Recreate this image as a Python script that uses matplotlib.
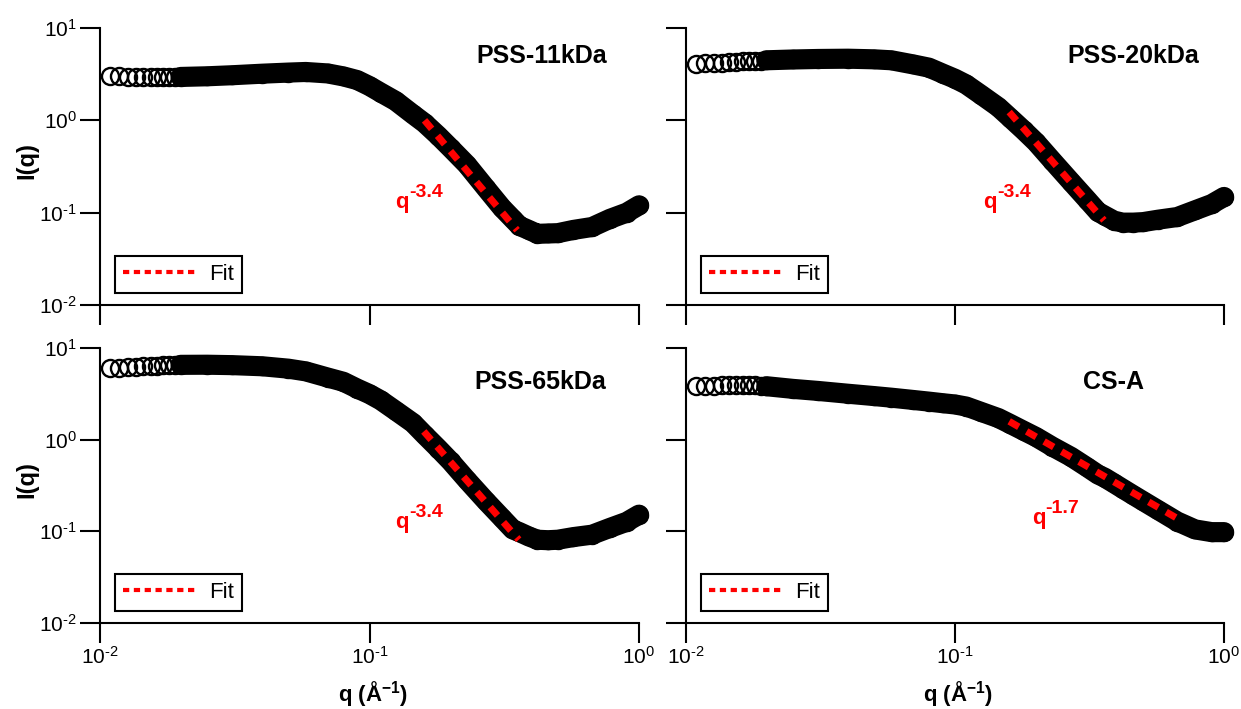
import matplotlib
matplotlib.use('Agg')
import matplotlib.pyplot as plt
from matplotlib.lines import Line2D
from matplotlib.ticker import NullLocator

plt.rcParams['font.family'] = ['Liberation Sans', 'DejaVu Sans']
plt.rcParams['mathtext.fontset'] = 'custom'
plt.rcParams['mathtext.rm'] = 'Liberation Sans'
plt.rcParams['mathtext.it'] = 'Liberation Sans:italic'
plt.rcParams['mathtext.bf'] = 'Liberation Sans:bold'

# ---------------- data ----------------
q = [0.0109, 0.0118, 0.0127, 0.0136, 0.0145, 0.0154, 0.0163, 0.0172, 0.0181, 0.0190,
     0.0199, 0.025, 0.031, 0.04, 0.05, 0.058, 0.07, 0.08, 0.09, 0.1,
     0.11, 0.125, 0.145, 0.16, 0.18, 0.2, 0.23, 0.27, 0.31, 0.34,
     0.36, 0.39, 0.42, 0.46, 0.5, 0.57, 0.67, 0.78, 0.9, 1.0]

I_pss11 = [3.0, 3.0, 2.98, 2.97, 2.95, 2.93, 2.92, 2.92, 2.93, 2.94,
           2.95, 3.0, 3.08, 3.2, 3.29, 3.34, 3.22, 2.99, 2.73, 2.35,
           2.0, 1.62, 1.16, 0.935, 0.68, 0.50, 0.33, 0.185, 0.113, 0.0855,
           0.072, 0.065, 0.059, 0.0595, 0.060, 0.065, 0.070, 0.0857, 0.10, 0.12]

I_pss20 = [4.1, 4.15, 4.2, 4.23, 4.27, 4.3, 4.34, 4.38, 4.41, 4.44,
           4.47, 4.56, 4.62, 4.65, 4.58, 4.47, 4.03, 3.72, 3.21, 2.82,
           2.45, 1.89, 1.39, 1.07, 0.78, 0.58, 0.365, 0.216, 0.138, 0.102,
           0.093, 0.082, 0.078, 0.078, 0.079, 0.084, 0.0897, 0.106, 0.124, 0.148]

I_pss65 = [6.05, 6.12, 6.2, 6.25, 6.3, 6.35, 6.4, 6.45, 6.5, 6.53,
           6.55, 6.57, 6.5, 6.32, 5.95, 5.56, 4.76, 4.28, 3.61, 3.14,
           2.69, 2.07, 1.52, 1.13, 0.80, 0.58, 0.362, 0.215, 0.14, 0.105,
           0.098, 0.088, 0.081, 0.080, 0.081, 0.0865, 0.092, 0.109, 0.127, 0.152]

I_csa = [3.82, 3.85, 3.88, 3.9, 3.92, 3.93, 3.94, 3.93, 3.9, 3.87,
         3.83, 3.58, 3.40, 3.17, 2.99, 2.87, 2.71, 2.6, 2.5, 2.42,
         2.3, 2.01, 1.72, 1.49, 1.25, 1.07, 0.84, 0.65, 0.50, 0.417,
         0.385, 0.334, 0.292, 0.248, 0.214, 0.17, 0.128, 0.105, 0.098, 0.098]

titles = ['PSS-11kDa', 'PSS-20kDa', 'PSS-65kDa', 'CS-A']
exponents = ['-3.4', '-3.4', '-3.4', '-1.7']
fit_q = [[0.16, 0.353], [0.159, 0.358], [0.159, 0.358], [0.159, 0.70]]
fit_I = [[1.0, 0.0645], [1.23, 0.0826], [1.23, 0.081], [1.585, 0.1286]]
legend_label = 'Fit'

xticks = [0.01, 0.1, 1.0]
xticklabels = [r'$10^{\text{-}2}$', r'$10^{\text{-}1}$', r'$10^{0}$']
yticks = [0.01, 0.1, 1.0, 10.0]
yticklabels = [r'$10^{\text{-}2}$', r'$10^{\text{-}1}$', r'$10^{0}$', r'$10^{1}$']
xlabel = r'$\mathbf{q\ (Å^{-1})}$'
ylabel = 'I(q)'

series = [I_pss11, I_pss20, I_pss65, I_csa]

# ---------------- layout ----------------
W, H = 1241, 709
fig = plt.figure(figsize=(W / 100, H / 100), dpi=100)
boxes = [(100, 28, 539, 277), (686, 28, 538, 277),
         (100, 348, 539, 275), (686, 348, 538, 275)]
title_pos = [(0.819, 0.90), (0.832, 0.90), (0.817, 0.877), (0.795, 0.877)]
expo_pos = [(0.548, 0.35), (0.553, 0.35), (0.548, 0.345), (0.643, 0.36)]
band_start = 10  # from here the circles merge into a solid band

for k in range(4):
    x0, y0, w, h = boxes[k]
    ax = fig.add_axes([x0 / W, 1 - (y0 + h) / H, w / W, h / H])
    ax.set_xscale('log')
    ax.set_yscale('log')
    ax.set_xlim(0.01, 1.0)
    ax.set_ylim(0.01, 10.0)

    I = series[k]
    ax.plot(q[band_start:], I[band_start:], color='black', lw=14.5,
            solid_capstyle='round', solid_joinstyle='round', zorder=2, clip_on=False)
    ax.plot(q, I, ls='none', marker='o', ms=12.3, mfc='none', mec='black',
            mew=1.7, zorder=2, clip_on=False)
    ax.plot(fit_q[k], fit_I[k], color='red', lw=5, dashes=(1.6, 1.3),
            dash_capstyle='butt', zorder=3)

    ax.text(title_pos[k][0], title_pos[k][1], titles[k], transform=ax.transAxes,
            ha='center', va='center', fontsize=18, fontweight='bold')

    ex, ey = expo_pos[k]
    ax.text(ex, ey, 'q', transform=ax.transAxes, color='red', fontsize=16,
            fontweight='bold', ha='left', va='baseline')
    ax.annotate(exponents[k], xy=(ex, ey), xycoords='axes fraction',
                xytext=(9.8, 8.0), textcoords='offset points', color='red',
                fontsize=14, fontweight='bold', ha='left', va='baseline')

    for side in ['top', 'right']:
        ax.spines[side].set_visible(False)
    for side in ['left', 'bottom']:
        ax.spines[side].set_linewidth(1.5)

    ax.set_xticks(xticks)
    ax.set_xticklabels(xticklabels)
    ax.set_yticks(yticks)
    ax.set_yticklabels(yticklabels)
    ax.xaxis.set_minor_locator(NullLocator())
    ax.yaxis.set_minor_locator(NullLocator())
    ax.tick_params(axis='both', which='major', direction='out', length=14.5,
                   width=1.5, labelsize=15, color='black')
    ax.tick_params(axis='x', pad=2)
    ax.tick_params(axis='y', pad=2)
    if k < 2:
        ax.tick_params(axis='x', labelbottom=False)
    else:
        ax.set_xlabel(xlabel, fontsize=16)
        ax.xaxis.set_label_coords(0.506, -0.204)
    if k % 2 == 1:
        ax.tick_params(axis='y', labelleft=False)
    else:
        ax.set_ylabel(ylabel, fontsize=17, fontweight='bold')
        ax.yaxis.set_label_coords(-0.115, 0.52)

    handle = Line2D([], [], color='red', lw=3, dashes=(1.5, 1.1), dash_capstyle='butt')
    leg = ax.legend([handle], [legend_label], loc='lower left',
                    bbox_to_anchor=(0.028, 0.045), borderaxespad=0, fontsize=16,
                    frameon=True, fancybox=False, edgecolor='black', framealpha=1,
                    borderpad=0.35, handlelength=3.3, handletextpad=0.6)
    leg.get_frame().set_linewidth(1.5)

fig.savefig('out.png', dpi=100)
